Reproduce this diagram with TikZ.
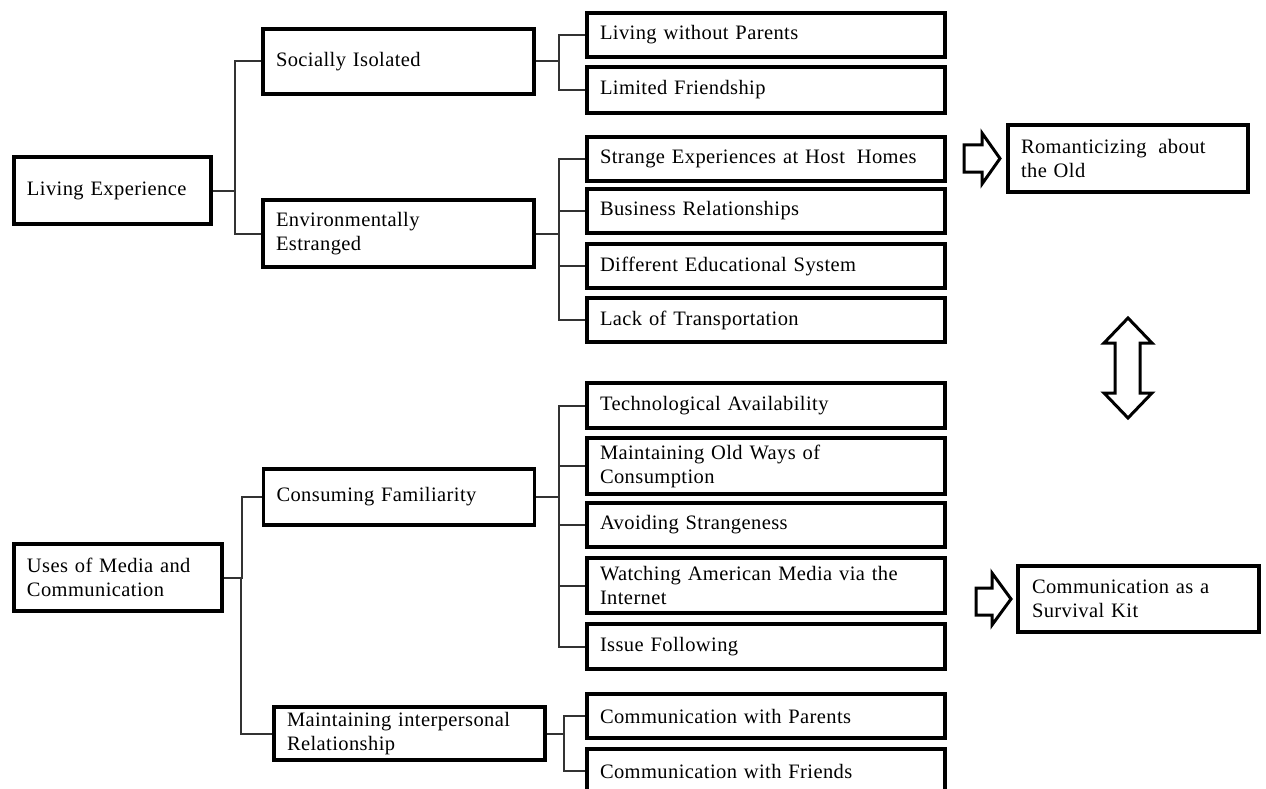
\documentclass[tikz,border=0pt]{standalone}
\usepackage{fontspec}
\setmainfont[LetterSpace=2]{Liberation Serif}
\begin{document}
\begin{tikzpicture}[x=1pt,y=-1pt,
  box/.style={draw=black, line width=3.2pt, fill=white, rectangle, inner xsep=13pt, inner ysep=0pt,
    align=left, font=\fontsize{20.5}{24}\selectfont},
  lvl/.style={box, minimum width=358pt, text width=332pt},
  mid/.style={box, minimum width=271pt, text width=245pt},
  conn/.style={draw=black!80, line width=2pt},
  blk/.style={draw=black, line width=3pt, fill=white, line join=miter}]
\useasboundingbox (0,0) rectangle (1266,789);
\fill[white] (0,0) rectangle (1266,789);

% root nodes
\node[box, minimum width=197pt, text width=171pt, minimum height=67pt] (le) at (112.5,190.5) {Living Experience};
\node[box, minimum width=208pt, text width=182pt, minimum height=67pt] (um) at (118,577.5) {Uses of Media and\\Communication};

% middle nodes
\node[mid, minimum height=65pt] (si) at (398.5,61.5) {Socially Isolated};
\node[mid, minimum height=67pt] (ee) at (398.5,233.5) {Environmentally\\Estranged};
\node[mid, minimum height=56pt] (cf) at (399,497) {Consuming Familiarity};
\node[mid, minimum height=53pt] (mir) at (409.5,733.5) {Maintaining interpersonal\\Relationship};

% leaf nodes
\node[lvl, minimum height=44pt] (lwp) at (766,35) {Living without Parents};
\node[lvl, minimum height=46pt] (lf) at (766,90) {Limited Friendship};
\node[lvl, minimum height=44pt] (se) at (766,159) {Strange Experiences at Host\hspace{5pt} Homes};
\node[lvl, minimum height=44pt] (br) at (766,211) {Business Relationships};
\node[lvl, minimum height=44pt] (de) at (766,266) {Different Educational System};
\node[lvl, minimum height=44pt] (lt) at (766,320) {Lack of Transportation};
\node[lvl, minimum height=45pt] (ta) at (766,405.5) {Technological Availability};
\node[lvl, minimum height=56pt] (mow) at (766,466) {Maintaining Old Ways of\\Consumption};
\node[lvl, minimum height=44pt] (as) at (766,525) {Avoiding Strangeness};
\node[lvl, minimum height=55pt] (wam) at (766,585.5) {Watching American Media via the\\Internet};
\node[lvl, minimum height=45pt] (if) at (766,646.5) {Issue Following};
\node[lvl, minimum height=44pt] (cwp) at (766,716) {Communication with Parents};
\node[lvl, minimum height=44pt] (cwf) at (766,771) {Communication with Friends};

% outcome nodes
\node[box, minimum width=240pt, text width=214pt, minimum height=67pt] (rom) at (1128,158.5) {Romanticizing\hspace{5pt} about\\the Old};
\node[box, minimum width=241pt, text width=213pt, inner xsep=14pt, minimum height=66pt] (csk) at (1138.5,599) {Communication as a\\Survival Kit};

% connectors
\draw[conn] (si.west) -- ++(-26,0) |- (le.east);
\draw[conn] (ee.west) -- ++(-26,0) |- (le.east);
\draw[conn] (lwp.west) -- ++(-26,0) |- (si.east);
\draw[conn] (lf.west) -- ++(-26,0) |- (si.east);
\foreach \n in {se,br,de,lt} \draw[conn] (\n.west) -- ++(-26,0) |- (ee.east);
\draw[conn] (cf.west) -- ++(-20,0) |- (um.east);
\draw[conn] (mir.west) -- ++(-31,0) |- (um.east);
\foreach \n in {ta,mow,as,wam,if} \draw[conn] (\n.west) -- ++(-26,0) |- (cf.east);
\draw[conn] (cwp.west) -- ++(-21,0) |- (mir.east);
\draw[conn] (cwf.west) -- ++(-21,0) |- (mir.east);

% block arrows
\draw[blk] (964,145) -- (982,145) -- (982,133) -- (1000,158.5) -- (982,184) -- (982,172) -- (964,172) -- cycle;
\draw[blk] (976,588) -- (992,588) -- (992,573) -- (1011,599) -- (992,625) -- (992,615) -- (976,615) -- cycle;
\draw[blk] (1128,318) -- (1152,343) -- (1140,343) -- (1140,393) -- (1152,393) -- (1128,418) -- (1104,393) -- (1115,393) -- (1115,343) -- (1104,343) -- cycle;
\end{tikzpicture}
\end{document}
